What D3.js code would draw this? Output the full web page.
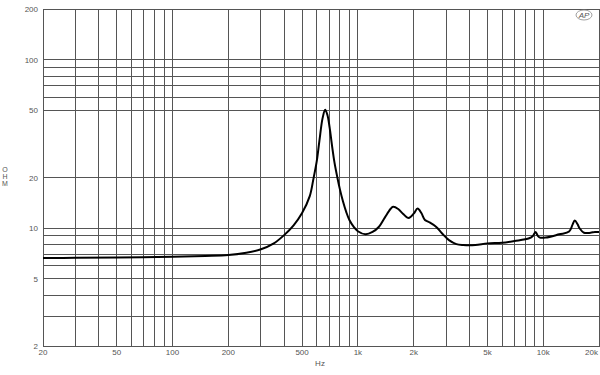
<!DOCTYPE html>
<html>
<head>
<meta charset="utf-8">
<script src="https://cdn.jsdelivr.net/npm/d3@7"></script>
<style>
  body { margin: 0; background: #fff; }
  text { font-family: "Liberation Sans", Arial, sans-serif; fill: #555; }
</style>
</head>
<body>
<div id="chart"></div>
<script>
// impedance curve
const freqs = [20, 30, 50, 100, 150, 200, 250, 300, 350, 400, 450, 500, 550, 575, 600, 620, 645, 666, 685, 703, 725, 748, 775, 800, 830, 865, 900, 950, 1000, 1100, 1200, 1300, 1400, 1500, 1550, 1650, 1750, 1880, 2000, 2100, 2200, 2300, 2430, 2640, 2850, 3100, 3400, 3700, 4300, 5000, 6000, 7000, 8400, 8800, 9100, 9350, 9600, 10300, 12200, 13800, 14400, 14800, 15300, 15700, 16600, 18000, 19000, 20000]
const ohms = [6.65, 6.67, 6.7, 6.78, 6.85, 6.93, 7.15, 7.5, 8.1, 9.1, 10.4, 12.3, 15.5, 19.5, 25, 33, 45, 50.5, 47, 40, 31, 24.5, 20, 17, 14.5, 12.5, 11.2, 10.2, 9.6, 9.2, 9.5, 10.2, 11.6, 13.0, 13.4, 13.0, 12.2, 11.5, 12.2, 13.1, 12.3, 11.2, 10.85, 10.2, 9.3, 8.5, 8.05, 7.95, 7.95, 8.13, 8.2, 8.4, 8.72, 9.0, 9.5, 9.0, 8.8, 8.8, 9.2, 9.55, 10.5, 11.1, 10.6, 10.0, 9.4, 9.4, 9.5, 9.5]

const xGrid = [20, 30, 40, 50, 60, 70, 80, 90, 100, 200, 300, 400, 500, 600, 700, 800, 900, 1000, 2000, 3000, 4000, 5000, 6000, 7000, 8000, 9000, 10000, 20000]
const xLabels = [20, 50, 100, 200, 500, 1000, 2000, 5000, 10000, 20000]
const yGrid = [2, 3, 4, 5, 6, 7, 8, 9, 10, 20, 50, 60, 70, 80, 90, 100, 200]
const yLabels = [2, 5, 10, 20, 50, 100, 200]

const width = 600, height = 375
const plotL = 43, plotR = 599, plotT = 9, plotB = 346

const x = d3.scaleLog().domain([20, 20000]).range([plotL, plotR])
const y = d3.scaleLog().domain([2, 200]).range([plotB, plotT])

const svg = d3.select("#chart").append("svg")
    .attr("width", width)
    .attr("height", height)

// grid
svg.append("g").selectAll("line")
    .data(xGrid)
    .enter().append("line")
    .attr("x1", d => x(d)).attr("x2", d => x(d))
    .attr("y1", plotT).attr("y2", plotB)
    .attr("stroke", "#555").attr("stroke-width", 1)
    .attr("shape-rendering", "crispEdges")

svg.append("g").selectAll("line")
    .data(yGrid)
    .enter().append("line")
    .attr("x1", plotL).attr("x2", plotR)
    .attr("y1", d => y(d)).attr("y2", d => y(d))
    .attr("stroke", "#555").attr("stroke-width", 1)
    .attr("shape-rendering", "crispEdges")

svg.append("rect")
    .attr("x", plotL).attr("y", plotT)
    .attr("width", plotR - plotL).attr("height", plotB - plotT)
    .attr("fill", "none").attr("stroke", "#555")
    .attr("shape-rendering", "crispEdges")

// tick labels
const fmt = d => d >= 1000 ? (d / 1000) + "k" : d

svg.append("g").selectAll("text")
    .data(xLabels)
    .enter().append("text")
    .attr("x", (d, i) => i == xLabels.length - 1 ? 598 : x(d)).attr("y", 355)
    .attr("text-anchor", (d, i) => i == xLabels.length - 1 ? "end" : "middle")
    .attr("font-size", 8)
    .text(fmt)

svg.append("g").selectAll("text")
    .data(yLabels)
    .enter().append("text")
    .attr("x", 38).attr("y", d => y(d) + 3)
    .attr("text-anchor", "end")
    .attr("font-size", 8)
    .text(d => d)

// axis titles
svg.append("text")
    .attr("x", 320).attr("y", 366)
    .attr("text-anchor", "middle")
    .attr("font-size", 8)
    .text("Hz")

svg.append("g").selectAll("text")
    .data(["O", "H", "M"])
    .enter().append("text")
    .attr("x", 5).attr("y", (d, i) => 172 + i * 7)
    .attr("text-anchor", "middle")
    .attr("font-size", 7)
    .text(d => d)

// AP logo
svg.append("ellipse")
    .attr("cx", 584).attr("cy", 15).attr("rx", 8).attr("ry", 5)
    .attr("fill", "none").attr("stroke", "#888").attr("stroke-width", 0.8)
svg.append("text")
    .attr("x", 584).attr("y", 18)
    .attr("text-anchor", "middle")
    .attr("font-size", 8).attr("font-style", "italic")
    .text("AP")

// curve
const line = d3.line()
    .x((d, i) => x(freqs[i]))
    .y(d => y(d))
    .curve(d3.curveCatmullRom.alpha(0.5))

svg.append("path")
    .datum(ohms)
    .attr("d", line)
    .attr("fill", "none")
    .attr("stroke", "#000")
    .attr("stroke-width", 2)
</script>
</body>
</html>
